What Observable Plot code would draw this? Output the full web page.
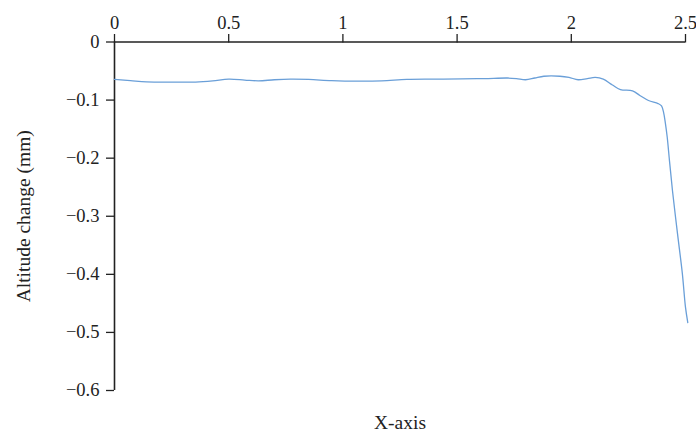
<!DOCTYPE html>
<html>
<head>
<meta charset="utf-8">
<script src="https://cdn.jsdelivr.net/npm/d3@7"></script>
<script src="https://cdn.jsdelivr.net/npm/@observablehq/plot@0.6"></script>
<style>
  html, body { margin: 0; padding: 0; background: #fff; }
  #chart svg { display: block; }
  #chart svg text { font-size: 18.5px !important; font-family: 'Liberation Serif', 'DejaVu Serif', serif !important; }
  #chart svg text.big, #chart svg .big text { font-size: 19.5px !important; }
</style>
</head>
<body>
<div id="chart"></div>
<script>
// X positions (X-axis units) and altitude change (mm)
const xs = [0.00, 0.07, 0.14, 0.25, 0.355, 0.43, 0.50, 0.57, 0.63, 0.70, 0.77, 0.85, 0.95, 1.06, 1.17, 1.28, 1.40, 1.52, 1.62, 1.72, 1.76, 1.80, 1.84, 1.88, 1.95, 1.99, 2.03, 2.07, 2.105, 2.14, 2.18, 2.215, 2.268, 2.30, 2.338, 2.38, 2.395, 2.404, 2.412, 2.42, 2.43, 2.443, 2.465, 2.486, 2.50, 2.51];
const altitude = [-0.0645, -0.0665, -0.0685, -0.069, -0.069, -0.067, -0.064, -0.0655, -0.0668, -0.065, -0.064, -0.0645, -0.0665, -0.0675, -0.067, -0.0645, -0.064, -0.0635, -0.063, -0.062, -0.063, -0.065, -0.062, -0.059, -0.059, -0.061, -0.065, -0.063, -0.061, -0.064, -0.074, -0.0818, -0.084, -0.092, -0.1007, -0.106, -0.110, -0.121, -0.140, -0.164, -0.205, -0.256, -0.330, -0.398, -0.457, -0.483];
const xTicks = [0, 0.5, 1, 1.5, 2, 2.5];
const yTicks = [0, -0.1, -0.2, -0.3, -0.4, -0.5, -0.6];
const xDomain = [0, 2.5];
const yDomain = [-0.6, 0];
const yLabel = "Altitude change (mm)";
const xLabel = "X-axis";

const data = xs.map((x, i) => ({x, y: altitude[i]}));
const fmt = d => d === 0 ? "0" : d3.format("")(d).replace("-", "\u2212");

const chart = Plot.plot({
  width: 696,
  height: 439,
  marginTop: 41.5,
  marginBottom: 49,
  marginLeft: 114,
  marginRight: 11,
  style: {fontFamily: "'Liberation Serif', 'DejaVu Serif', serif", fontSize: "16px", color: "#222", background: "#fff"},
  x: {domain: xDomain, ticks: xTicks, tickFormat: fmt, label: null, axis: null},
  y: {domain: yDomain, ticks: yTicks, tickFormat: fmt, label: null, axis: null},
  marks: [
    Plot.axisX({anchor: "top", ticks: xTicks, tickFormat: fmt, tickSize: 8.5, tickPadding: 5, label: null, stroke: "#222", strokeWidth: 1.3}),
    Plot.axisY({anchor: "left", ticks: yTicks, tickFormat: fmt, tickSize: 8, tickPadding: 7, label: null, stroke: "#222", strokeWidth: 1.3}),
    Plot.ruleY([yDomain[1]], {x1: xDomain[0], x2: xDomain[1], stroke: "#222", strokeWidth: 1.6}),
    Plot.ruleX([xDomain[0]], {y1: yDomain[0], y2: yDomain[1], stroke: "#222", strokeWidth: 1.6}),
    Plot.line(data, {x: "x", y: "y", curve: "catmull-rom", stroke: "#6a9fd8", strokeWidth: 1.3}),
    Plot.text([xLabel], {frameAnchor: "bottom", dy: 38, fill: "#222", className: "big"}),
    Plot.text([yLabel], {frameAnchor: "left", dx: -91, rotate: -90, textAnchor: "middle", fill: "#222", className: "big"})
  ]
});
document.getElementById("chart").appendChild(chart);
</script>
</body>
</html>
